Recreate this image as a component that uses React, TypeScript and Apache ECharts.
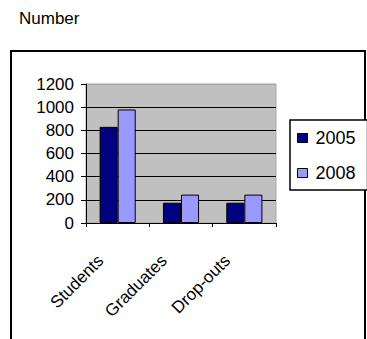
import React, { useEffect, useRef } from "react";
import * as echarts from "echarts";

const categories = ["Students", "Graduates", "Drop-outs"];
const series2005 = [830, 175, 175];
const series2008 = [980, 245, 245];
const seriesNames = ["2005", "2008"];
const yTicks = { min: 0, max: 1200, interval: 200 };
const titleText = "Number";

const FONT = "Liberation Sans, Arial, sans-serif";

export default function App() {
  const ref = useRef<HTMLDivElement>(null);
  useEffect(() => {
    if (!ref.current) return;
    const chart = echarts.init(ref.current, null, { renderer: "svg" });
    chart.setOption({
      animation: false,
      backgroundColor: "#fff",
      textStyle: { fontFamily: FONT },
      graphic: [
        {
          type: "rect",
          shape: { x: 11, y: 51, width: 354, height: 400 },
          style: { fill: "none", stroke: "#000", lineWidth: 2 },
          silent: true,
        },
        {
          type: "text",
          left: 19,
          top: 10,
          style: { text: titleText, fontSize: 17, fill: "#000", fontFamily: FONT },
        },
      ],
      legend: {
        orient: "vertical",
        left: 290,
        top: 120,
        padding: [9, 12, 8, 7],
        itemGap: 17,
        itemWidth: 10,
        itemHeight: 9,
        borderColor: "#000",
        borderWidth: 1.5,
        backgroundColor: "#fff",
        icon: "rect",
        itemStyle: { borderColor: "#000", borderWidth: 1 },
        textStyle: { fontSize: 18, color: "#000", fontFamily: FONT, padding: [0, 0, 0, 3] },
        data: seriesNames,
      },
      grid: {
        left: 86,
        top: 84,
        right: 91,
        bottom: 116,
        show: true,
        backgroundColor: "#C0C0C0",
        borderColor: "#A8A8A8",
        borderWidth: 1,
      },
      xAxis: {
        type: "category",
        data: categories,
        axisLine: { lineStyle: { color: "#000", width: 1 } },
        axisTick: { show: true, alignWithLabel: false, length: 4, lineStyle: { color: "#000" } },
        axisLabel: {
          rotate: 45,
          margin: 18,
          fontSize: 17,
          color: "#000",
          fontFamily: FONT,
          padding: [0, 24, 0, 0],
        },
      },
      yAxis: {
        type: "value",
        min: yTicks.min,
        max: yTicks.max,
        interval: yTicks.interval,
        axisLine: { show: true, lineStyle: { color: "#000", width: 1 } },
        axisTick: { show: true, length: 5, lineStyle: { color: "#000" } },
        axisLabel: {
          fontSize: 17,
          color: "#000",
          fontFamily: FONT,
          margin: 12,
          formatter: (v: number) => String(v),
        },
        splitLine: {
          show: true,
          lineStyle: {
            color: ["#000", "#000", "#000", "#000", "#000", "#000", "#A8A8A8"],
            width: 1,
          },
        },
      },
      series: [
        {
          name: seriesNames[0],
          type: "bar",
          data: series2005,
          barGap: "0%",
          barCategoryGap: "43%",
          itemStyle: { color: "#000080", borderColor: "#000", borderWidth: 1 },
        },
        {
          name: seriesNames[1],
          type: "bar",
          data: series2008,
          barGap: "0%",
          barCategoryGap: "43%",
          itemStyle: { color: "#9999FF", borderColor: "#000", borderWidth: 1 },
        },
      ],
    });
    return () => chart.dispose();
  }, []);
  return (
    <div
      ref={ref}
      style={{ position: "fixed", left: 0, top: 0, width: 367, height: 339 }}
    />
  );
}
